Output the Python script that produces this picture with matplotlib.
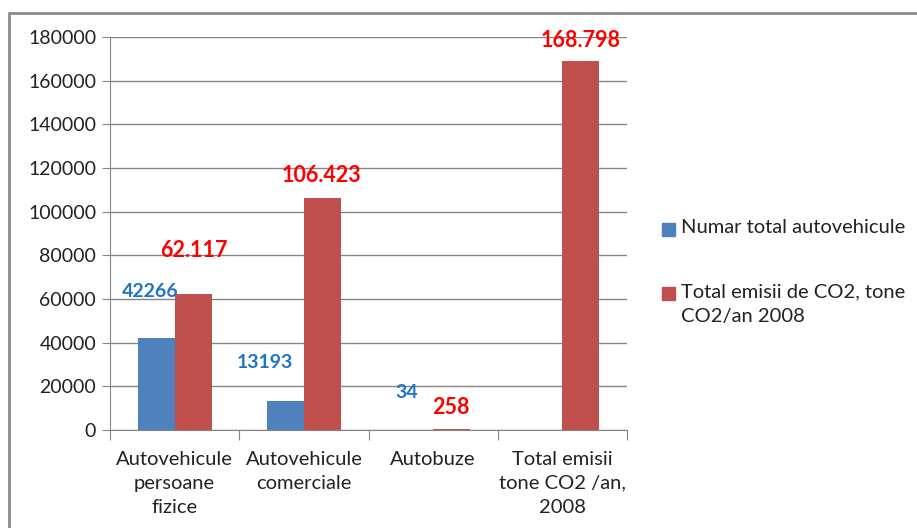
import numpy as np
import matplotlib.pyplot as plt
from matplotlib.patches import Rectangle

categories = ['Autovehicule\npersoane\nfizice', 'Autovehicule\ncomerciale',
              'Autobuze', 'Total emisii\ntone CO2 /an,\n2008']
numar = [42266, 13193, 34, 0]
emisii = [62117, 106423, 258, 168798]
numar_labels = ['42266', '13193', '34', '']
emisii_labels = ['62.117', '106.423', '258', '168.798']
series_names = ['Numar total autovehicule', 'Total emisii de CO2, tone\nCO2/an 2008']

BLUE = '#4F81BD'
RED = '#C0504D'
GRID = '#868686'

plt.rcParams['font.family'] = ['Lato', 'DejaVu Sans']

fig = plt.figure(figsize=(9.17, 5.28), dpi=100)
ax = fig.add_axes([110 / 917, 1 - 430 / 528, 517 / 917, 393 / 528])

x = np.arange(len(categories))
bw = 1 / 3.5
b1 = ax.bar(x - bw / 2, numar, bw, color=BLUE, zorder=3)
b2 = ax.bar(x + bw / 2, emisii, bw, color=RED, zorder=3)

# data label offsets in pixels (dx, dy), as placed in the original
num_off = [(-6, 46), (-21, 39), (-8, 37), (0, 0)]
emi_off = [(1, 44), (-1, 22), (-1, 22), (0, 21)]
for rect, lab, off in zip(b1, numar_labels, num_off):
    ax.annotate(lab, (rect.get_x() + rect.get_width() / 2, rect.get_height()),
                xytext=(off[0] * 0.72, off[1] * 0.72), textcoords='offset points',
                ha='center', va='center', color='#1F74C4', fontsize=14,
                fontweight='bold', zorder=5)
for rect, lab, off in zip(b2, emisii_labels, emi_off):
    ax.annotate(lab, (rect.get_x() + rect.get_width() / 2, rect.get_height()),
                xytext=(off[0] * 0.72, off[1] * 0.72), textcoords='offset points',
                ha='center', va='center', color='#FF0000', fontsize=15.5,
                fontweight='bold', zorder=5)

ax.set_xlim(-0.5, len(categories) - 0.5)
ax.set_ylim(0, 180000)
ax.set_yticks(np.arange(0, 180001, 20000))
ax.yaxis.grid(True, color=GRID, linewidth=1)
ax.set_axisbelow(True)
ax.tick_params(axis='y', labelsize=14, length=6, color=GRID, pad=4, labelcolor='#222222')
ax.set_xticks(np.arange(-0.5, len(categories)), minor=False)
ax.set_xticklabels([])
ax.set_xticks(x, minor=True)
ax.set_xticklabels(categories, minor=True)
ax.tick_params(axis='x', which='major', length=7, color=GRID)
ax.tick_params(axis='x', which='minor', length=0, labelsize=14.5, pad=15, labelcolor='#222222')
for lab in ax.get_xticklabels(minor=True):
    lab.set_linespacing(1.5)
for s in ['top', 'right']:
    ax.spines[s].set_visible(False)
for s in ['left', 'bottom']:
    ax.spines[s].set_color(GRID)

# legend drawn by hand so the marker sits on the first line
leg_y = [230, 294]
for name, col, yy in zip(series_names, [BLUE, RED], leg_y):
    fig.patches.append(Rectangle((662 / 917, 1 - (yy + 6) / 528), 13 / 917, 13 / 528,
                                 transform=fig.transFigure, color=col))
    fig.text(681 / 917, 1 - (yy - 11) / 528, name, ha='left', va='top', fontsize=14.5,
             color='#222222', linespacing=1.55, transform=fig.transFigure)

# outer chart border
fig.patches.append(Rectangle((9 / 917, -0.1), 1.2, 1 - 13 / 528 + 0.1,
                             transform=fig.transFigure, fill=False,
                             edgecolor='#8C8C8C', linewidth=2))

fig.savefig('out.png', dpi=100)
